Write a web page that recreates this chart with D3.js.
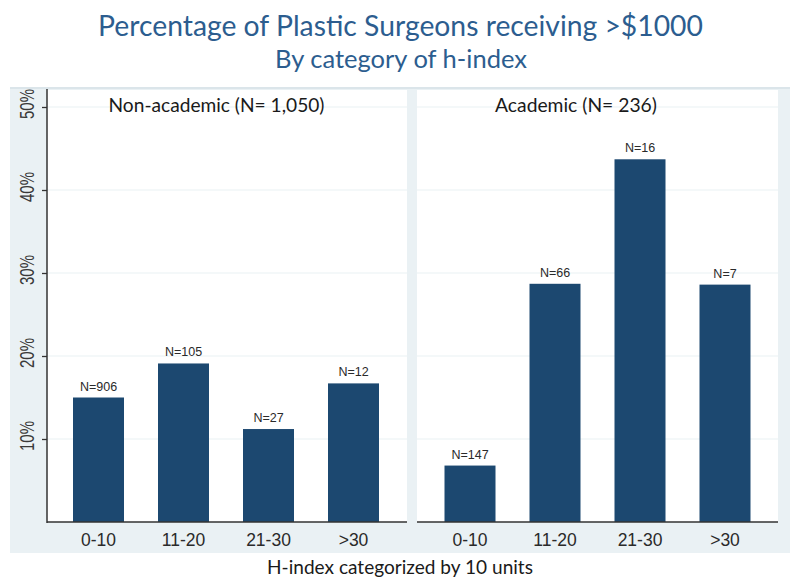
<!DOCTYPE html>
<html>
<head>
<meta charset="utf-8">
<script src="https://cdn.jsdelivr.net/npm/d3@7"></script>
<style>
  html, body { margin: 0; padding: 0; background: #ffffff; }
  svg { display: block; }
</style>
</head>
<body>
<svg id="chart" width="800" height="586"></svg>
<script>
// ---- Data ----
const categories = ["0-10", "11-20", "21-30", ">30"];
const nonAcademicPct = [15.0, 19.1, 11.2, 16.7];
const nonAcademicN = [906, 105, 27, 12];
const academicPct = [6.8, 28.7, 43.7, 28.6];
const academicN = [147, 66, 16, 7];
const yTicks = [10, 20, 30, 40, 50];
const panelTitles = ["Non-academic (N= 1,050)", "Academic (N= 236)"];
const titleText = "Percentage of Plastic Surgeons receiving >$1000";
const subtitleText = "By category of h-index";
const xAxisLabel = "H-index categorized by 10 units";

// ---- Layout ----
const svg = d3.select("#chart");
const titleFont = "Lato, 'Open Sans', sans-serif";
const tickFont = "'Liberation Sans', Arial, sans-serif";
const barColor = "#1c4870";
const axisColor = "#333333";

const y = d3.scaleLinear().domain([0, 50]).range([522, 107]);

// grey plot region background
svg.append("rect").attr("x", 10).attr("y", 87).attr("width", 780).attr("height", 466)
  .attr("fill", "#eaf1f4");
svg.append("line").attr("x1", 10).attr("x2", 790).attr("y1", 88).attr("y2", 88)
  .attr("stroke", "#dbe5ea").attr("stroke-width", 2);

const panels = [
  { x0: 47, x1: 407, range: [56, 396], pct: nonAcademicPct, n: nonAcademicN, title: panelTitles[0], titleX: 216.5 },
  { x0: 417, x1: 778, range: [427.5, 767.5], pct: academicPct, n: academicN, title: panelTitles[1], titleX: 576 }
];

function fitText(sel, targetWidth) {
  const node = sel.node();
  const fs = parseFloat(sel.attr("font-size"));
  const w = node.getComputedTextLength();
  if (w > 0) sel.attr("font-size", (fs * targetWidth / w).toFixed(2));
}

panels.forEach((p, pi) => {
  const g = svg.append("g");
  // white plot panel
  g.append("rect").attr("x", p.x0).attr("y", 90).attr("width", p.x1 - p.x0).attr("height", 432)
    .attr("fill", "#ffffff");
  // gridlines
  g.selectAll("line.grid").data(yTicks).enter().append("line")
    .attr("x1", p.x0).attr("x2", p.x1)
    .attr("y1", d => y(d)).attr("y2", d => y(d))
    .attr("stroke", "#e9f1f4").attr("stroke-width", 1.2);

  const x = d3.scaleBand().domain(categories).range(p.range).paddingInner(0.4).paddingOuter(0.2);

  const data = categories.map((c, i) => ({ c, v: p.pct[i], n: p.n[i] }));
  g.selectAll("rect.bar").data(data).enter().append("rect")
    .attr("x", d => x(d.c)).attr("width", x.bandwidth())
    .attr("y", d => y(d.v)).attr("height", d => y(0) - y(d.v))
    .attr("fill", barColor);

  g.selectAll("text.nlab").data(data).enter().append("text")
    .attr("x", d => x(d.c) + x.bandwidth() / 2)
    .attr("y", d => y(d.v) - 7)
    .attr("text-anchor", "middle")
    .attr("font-family", tickFont).attr("font-size", 12.5)
    .attr("fill", "#2a2a2a")
    .text(d => "N=" + d.n);

  // x axis
  const xAxis = d3.axisBottom(x).tickSize(0).tickPadding(12);
  const ax = g.append("g").attr("transform", `translate(0,${y(0)})`).call(xAxis);
  ax.select(".domain").remove();
  ax.selectAll("text").attr("font-family", tickFont).attr("font-size", 17.5).attr("fill", "#2a2a2a");
  g.append("line").attr("x1", p.x0).attr("x2", p.x1).attr("y1", y(0)).attr("y2", y(0))
    .attr("stroke", axisColor).attr("stroke-width", 1.5);

  // panel title
  const pt = g.append("text").attr("x", p.titleX).attr("y", 112)
    .attr("text-anchor", "middle").attr("font-family", titleFont).attr("font-size", 18)
    .attr("fill", "#1a1a1a").text(p.title);
  fitText(pt, pi === 0 ? 216 : 162);
});

// y axis on left panel
const yAxis = d3.axisLeft(y).tickValues(yTicks).tickSize(5).tickFormat(d => d + "%");
const ya = svg.append("g").attr("transform", "translate(47,0)").call(yAxis);
ya.select(".domain").remove();
ya.selectAll(".tick line").attr("stroke", axisColor).attr("stroke-width", 1.3);
ya.selectAll(".tick text").remove();
svg.append("line").attr("x1", 47).attr("x2", 47).attr("y1", 89).attr("y2", 523)
  .attr("stroke", axisColor).attr("stroke-width", 1.5);
svg.selectAll("text.ylab").data(yTicks).enter().append("text")
  .attr("transform", d => `translate(33.5,${y(d) - 3}) rotate(-90)`)
  .attr("text-anchor", "middle")
  .attr("font-family", tickFont).attr("font-size", 21)
  .attr("fill", "#3a3a3a")
  .attr("textLength", 30).attr("lengthAdjust", "spacingAndGlyphs")
  .text(d => d + "%");

// titles
const t1 = svg.append("text").attr("x", 400.5).attr("y", 36).attr("text-anchor", "middle")
  .attr("font-family", titleFont).attr("font-size", 24).attr("fill", "#2c5d8f").text(titleText);
fitText(t1, 605);
const t2 = svg.append("text").attr("x", 401).attr("y", 68).attr("text-anchor", "middle")
  .attr("font-family", titleFont).attr("font-size", 20).attr("fill", "#2c5d8f").text(subtitleText);
fitText(t2, 252);

const xl = svg.append("text").attr("x", 400).attr("y", 574).attr("text-anchor", "middle")
  .attr("font-family", titleFont).attr("font-size", 18).attr("fill", "#1a1a1a").text(xAxisLabel);
fitText(xl, 266);
</script>
</body>
</html>
